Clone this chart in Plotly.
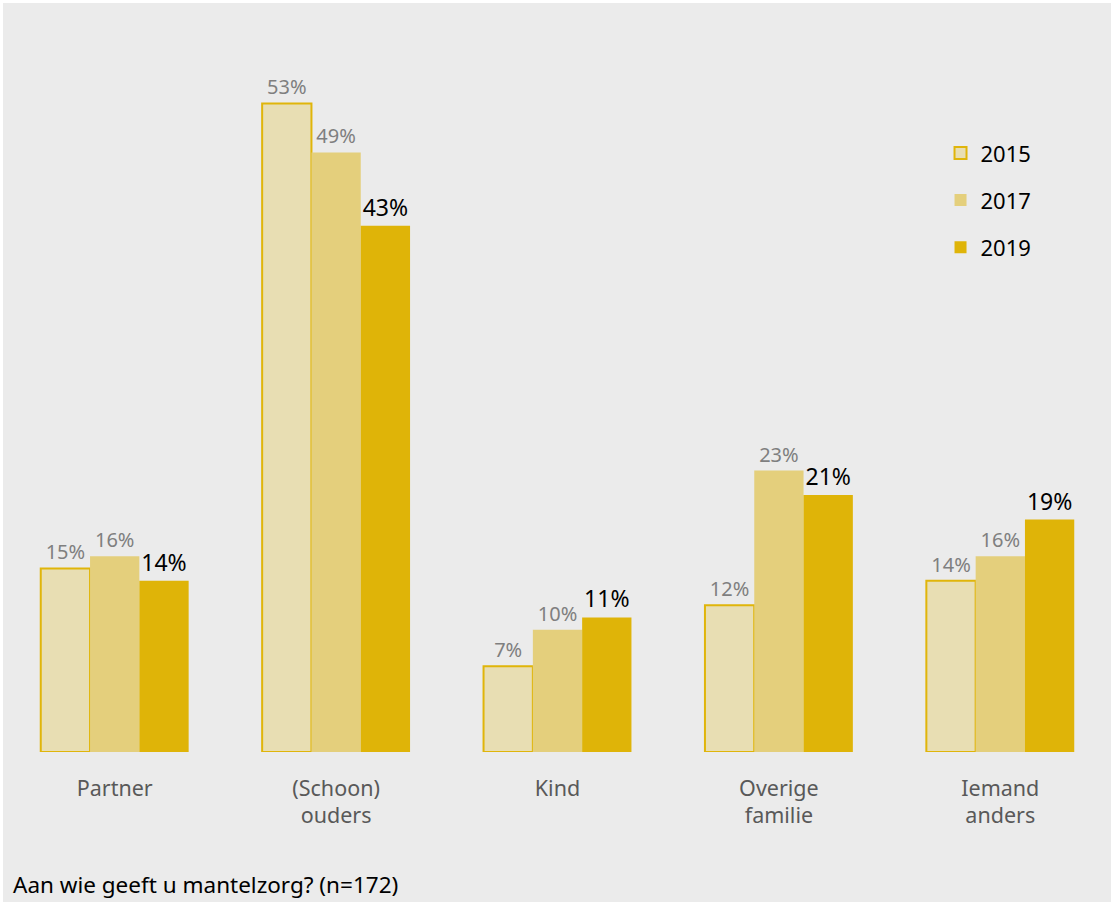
import plotly.graph_objects as go

categories = ["Partner", "(Schoon)<br>ouders", "Kind", "Overige<br>familie", "Iemand<br>anders"]
years = ["2015", "2017", "2019"]
v2015 = [15, 53, 7, 12, 14]
v2017 = [16, 49, 10, 23, 16]
v2019 = [14, 43, 11, 21, 19]
series = [v2015, v2017, v2019]

fills = ["#E8DEB3", "#E4CF7C", "#DFB408"]
lines = ["#E0B50A", "#E4CF7C", "#DFB408"]
line_w = [2, 0, 0]
txt_col = ["#7F7F7F", "#7F7F7F", "#000000"]
txt_size = [20, 20, 23]

FONT = "Noto Sans"

fig = go.Figure()
for i, (yr, vals) in enumerate(zip(years, series)):
    fig.add_trace(go.Bar(
        x=categories, y=vals, name=yr,
        marker=dict(color=fills[i], line=dict(color=lines[i], width=line_w[i])),
        text=[f"{v}%" for v in vals], textposition="outside",
        textfont=dict(family=FONT, size=txt_size[i], color=txt_col[i]),
        cliponaxis=False, legendgroup=yr,
    ))

fig.add_shape(type="rect", xref="paper", yref="paper", x0=-0.0009, x1=1.0,
              y0=-0.2229, y1=1.1129, fillcolor="#EBEBEB", line=dict(width=0),
              layer="below")

fig.add_annotation(text="Aan wie geeft u mantelzorg? (n=172)", xref="paper", yref="paper",
                   x=0.006, y=-0.197, xanchor="left", yanchor="middle", showarrow=False,
                   font=dict(family=FONT, size=22.5, color="#000000"))

fig.update_layout(
    width=1111, height=902,
    margin=dict(l=4, r=0, t=79, b=150),
    paper_bgcolor="white", plot_bgcolor="rgba(0,0,0,0)",
    barmode="group", bargap=0.332, bargroupgap=0,
    font=dict(family=FONT),
    showlegend=True,
    legend=dict(x=0.846, y=0.921, xanchor="left", yanchor="top",
                font=dict(family=FONT, size=22, color="#000000"),
                bgcolor="rgba(0,0,0,0)", tracegroupgap=15.5, itemwidth=30),
    xaxis=dict(showgrid=False, showline=False, zeroline=False, ticks="",
               tickfont=dict(family=FONT, size=21.5, color="#595959"),
               ticklabelstandoff=21),
    yaxis=dict(range=[0, 55], visible=False, showgrid=False, zeroline=False),
)

fig.write_html("out.html", config={"displayModeBar": False},
               post_script="document.body.style.margin='0';")
